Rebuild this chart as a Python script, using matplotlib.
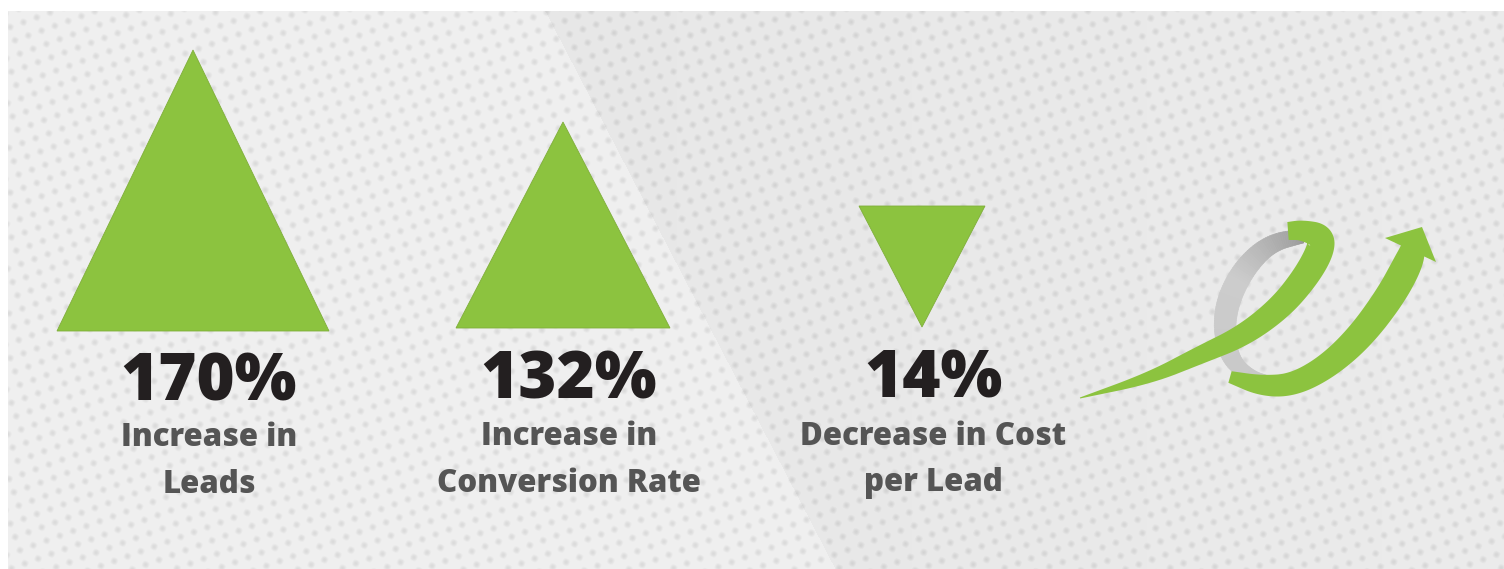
import numpy as np
import matplotlib
matplotlib.use("Agg")
import matplotlib.pyplot as plt
from matplotlib.patches import Polygon
from matplotlib.collections import PolyCollection

# --- chart content ---
values = [170, 132, 14]
value_labels = ["170%", "132%", "14%"]
label_line1 = ["Increase in", "Increase in", "Decrease in Cost"]
label_line2 = ["Leads", "Conversion Rate", "per Lead"]
directions = ["up", "up", "down"]

# --- layout (pixel coords, y down) ---
W, H = 1504, 569
tri_cx = [193, 563, 922]
tri_half = [136, 107, 63]
tri_base = [331, 328, 206]
tri_height = [281, 206, 121]
text_cx = [209, 569, 933]
num_base = [400, 398, 397]
lab1_base = [446, 445, 445]
lab2_base = [493, 492, 491]

GREEN = "#8cc33f"
NUM_COLOR = "#231f20"
LAB_COLOR = "#555555"
FONT = ["Open Sans", "DejaVu Sans"]

fig = plt.figure(figsize=(W / 100, H / 100), dpi=100)
ax = fig.add_axes([0, 0, 1, 1])
ax.set_xlim(0, W)
ax.set_ylim(H, 0)
ax.axis("off")

# background: light grey fabric with a lighter diagonal panel on the left
x0, y0 = 8, 11
yy, xx = np.mgrid[y0:H, x0:W].astype(float)
bg = 0.895 + 0.025 * (xx / W)
edge = 545 + (yy - y0) * 0.52
bg = np.where(xx < edge, 0.935, bg)
ang = np.deg2rad(25)
u = xx * np.cos(ang) + yy * np.sin(ang)
v = -xx * np.sin(ang) + yy * np.cos(ang)
t = np.cos(2 * np.pi * u / 20.0) * np.cos(2 * np.pi * v / 20.0)
bg -= 0.08 * np.clip((t - 0.25) / 0.75, 0, 1) ** 1.3
ax.imshow(bg, cmap="gray", vmin=0, vmax=1, extent=(x0, W, H, y0),
          interpolation="bilinear", zorder=0, aspect="auto")

# triangles
for cx, hw, yb, h, d in zip(tri_cx, tri_half, tri_base, tri_height, directions):
    if d == "up":
        pts = [(cx - hw, yb), (cx + hw, yb), (cx, yb - h)]
    else:
        pts = [(cx - hw, yb), (cx + hw, yb), (cx, yb + h)]
    ax.add_patch(Polygon(pts, closed=True, facecolor=GREEN,
                         edgecolor="#7fae3a", lw=0.6, zorder=2))

# numbers and labels
for i in range(len(values)):
    ax.text(text_cx[i], num_base[i], value_labels[i], ha="center", va="baseline",
            fontsize=47, fontweight="heavy", color=NUM_COLOR, family=FONT, zorder=3)
    ax.text(text_cx[i], lab1_base[i], label_line1[i], ha="center", va="baseline",
            fontsize=22.5, fontweight="heavy", color=LAB_COLOR, family=FONT, zorder=3)
    ax.text(text_cx[i], lab2_base[i], label_line2[i], ha="center", va="baseline",
            fontsize=22.5, fontweight="heavy", color=LAB_COLOR, family=FONT, zorder=3)


# swoosh logo
def chaikin(pts, w, it=4):
    p = np.c_[np.asarray(pts, float), np.asarray(w, float)]
    for _ in range(it):
        q = 0.75 * p[:-1] + 0.25 * p[1:]
        r = 0.25 * p[:-1] + 0.75 * p[1:]
        new = np.empty((2 * len(q), 3))
        new[0::2], new[1::2] = q, r
        p = np.r_[p[:1], new, p[-1:]]
    return p


def ribbon_quads(pts, widths):
    p = chaikin(pts, widths)
    px, py, w = p[:, 0], p[:, 1], p[:, 2]
    dx, dy = np.gradient(px), np.gradient(py)
    n = np.hypot(dx, dy)
    nx, ny = -dy / n, dx / n
    L = np.c_[px + nx * w / 2, py + ny * w / 2]
    R = np.c_[px - nx * w / 2, py - ny * w / 2]
    return L, R


def ribbon(pts, widths):
    L, R = ribbon_quads(pts, widths)
    return np.r_[L, R[::-1]]


gray_pts = [(1302, 236), (1270, 243), (1244, 268), (1227, 302), (1224, 335),
            (1232, 362), (1250, 376), (1268, 380)]
gray_w = [14, 18, 22, 23, 21, 17, 12, 8]
L, R = ribbon_quads(gray_pts, gray_w)
quads = [np.array([L[k], L[k + 1], R[k + 1], R[k]]) for k in range(len(L) - 1)]
shade = np.interp(np.arange(len(quads)), [0, len(quads) * 0.35, len(quads)],
                  [0.58, 0.80, 0.78])
ax.add_collection(PolyCollection(quads, facecolors=[(s, s, s) for s in shade],
                                 edgecolors=[(s, s, s) for s in shade], lw=0.5,
                                 zorder=2))

green1 = [(1080, 398), (1150, 378), (1200, 355), (1243, 336), (1280, 308),
          (1305, 278), (1320, 252), (1322, 236), (1302, 230), (1288, 231)]
green1_w = [1, 12, 18, 22, 25, 27, 28, 26, 20, 18]
ax.add_patch(Polygon(ribbon(green1, green1_w), closed=True, facecolor=GREEN,
                     edgecolor="none", zorder=3))

green2 = [(1230, 377), (1262, 386), (1293, 385), (1327, 367), (1360, 337),
          (1390, 297), (1408, 264), (1414, 246)]
green2_w = [12, 21, 23, 25, 28, 30, 30, 24]
ax.add_patch(Polygon(ribbon(green2, green2_w), closed=True, facecolor=GREEN,
                     edgecolor="none", zorder=3))
ax.add_patch(Polygon([(1385, 238), (1422, 227), (1436, 262)], closed=True,
                     facecolor=GREEN, edgecolor="none", zorder=3))

fig.savefig("out.png", dpi=100, facecolor="white")
